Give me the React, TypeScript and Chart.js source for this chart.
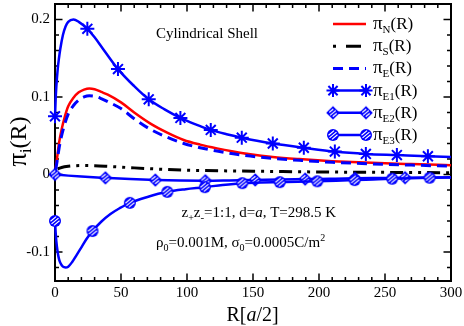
import React, { useEffect, useRef } from "react";
import { Chart, registerables } from "chart.js";

Chart.register(...registerables);

const FONT = '"Liberation Serif", "Times New Roman", serif';
const BLUE = "#0000ff";
const RED = "#ff0000";

// ---- data ----
const R_NE = [0.5, 1.5, 3, 5, 7.5, 10, 14, 18, 22, 26, 30, 35, 40, 50, 60, 72, 85, 97.5, 110, 122.7, 135, 148, 165, 185, 210, 240, 270, 300];
const PI_N = [0.008, 0.02, 0.04, 0.058, 0.075, 0.088, 0.099, 0.106, 0.1095, 0.111, 0.11, 0.1065, 0.103, 0.093, 0.08, 0.066, 0.054, 0.0445, 0.0385, 0.0337, 0.0297, 0.026, 0.0225, 0.0198, 0.0172, 0.015, 0.0134, 0.012];
const PI_E = [0.006, 0.016, 0.033, 0.05, 0.066, 0.078, 0.089, 0.096, 0.1, 0.1015, 0.101, 0.098, 0.094, 0.085, 0.072, 0.0585, 0.048, 0.04, 0.0345, 0.0302, 0.0267, 0.0237, 0.0207, 0.0183, 0.0157, 0.0137, 0.0121, 0.0107];

const R_S = [2, 5, 10, 20, 30, 40, 60, 80, 100, 150, 200, 250, 300];
const PI_S = [0.007, 0.009, 0.0105, 0.0115, 0.0112, 0.0104, 0.0085, 0.0068, 0.0055, 0.0042, 0.0032, 0.0027, 0.0023];

const R_E1 = [0, 0.5, 1, 2, 3, 4, 6, 8, 10, 14, 18, 24.5, 30, 36, 47.7, 60, 71, 83, 95, 106, 118, 130, 141.5, 153, 165, 188.5, 212, 235.5, 259, 282.5, 300];
const PI_E1 = [0.075, 0.097, 0.113, 0.135, 0.15, 0.162, 0.18, 0.191, 0.197, 0.2, 0.197, 0.188, 0.177, 0.163, 0.136, 0.114, 0.097, 0.084, 0.073, 0.065, 0.0575, 0.052, 0.0475, 0.0435, 0.04, 0.0345, 0.0295, 0.0265, 0.025, 0.0235, 0.0225];
const MARK_E1 = [0, 24.5, 47.7, 71, 95, 118, 141.5, 165, 188.5, 212, 235.5, 259, 282.5];

const R_E2 = [0, 5, 10, 20, 38.2, 57, 76, 95, 113.9, 132, 151.7, 170, 189.5, 208, 227.3, 246, 265.2, 283, 300];
const PI_E2 = [0, -0.0008, -0.0015, -0.0027, -0.0044, -0.006, -0.0072, -0.0079, -0.0081, -0.0077, -0.0071, -0.0065, -0.006, -0.0055, -0.005, -0.0046, -0.0042, -0.0039, -0.0037];
const MARK_E2 = [0, 38.2, 76, 113.9, 151.7, 189.5, 227.3, 265.2];

const R_E3 = [0, 0.5, 1, 2, 3, 4, 6, 8, 10, 13, 16, 20, 24, 28.4, 35, 42, 49, 56.7, 70, 85.1, 99, 113.5, 127, 141.9, 156, 170.3, 184, 198.7, 213, 227, 241, 255.4, 269, 283.8, 300];
const PI_E3 = [-0.06, -0.075, -0.086, -0.1, -0.109, -0.114, -0.119, -0.12, -0.119, -0.113, -0.105, -0.094, -0.083, -0.073, -0.061, -0.051, -0.0435, -0.0366, -0.029, -0.0224, -0.019, -0.0164, -0.0135, -0.0112, -0.0105, -0.0099, -0.0093, -0.0088, -0.0081, -0.0073, -0.0064, -0.0055, -0.0048, -0.0042, -0.0038];
const MARK_E3 = [0, 28.4, 56.7, 85.1, 113.5, 141.9, 170.3, 198.7, 227, 255.4, 283.8];

const X_TICKS = [0, 50, 100, 150, 200, 250, 300];
const X_TICK_LABELS = ["0", "50", "100", "150", "200", "250", "300"];
const Y_TICKS = [-0.1, 0, 0.1, 0.2];
const Y_TICK_LABELS = ["-0.1", "0", "0.1", "0.2"];
const X_MINOR_STEP = 10;
const X_MAJOR_STEP = 50;
const Y_MINOR_STEP = 0.02;
const Y_MAJOR_STEP = 0.1;
const X_MIN = 0, X_MAX = 300, Y_MIN = -0.1375, Y_MAX = 0.22;

const LEGEND_SUBS = ["N", "S", "E", "E1", "E2", "E3"];

type Seg = { t: string; size: number; dy?: number; italic?: boolean };

function fontOf(s: Seg) {
  return `${s.italic ? "italic " : ""}${s.size}px ${FONT}`;
}

function drawRich(ctx: CanvasRenderingContext2D, segs: Seg[], x: number, y: number, align: "left" | "center" | "right" = "left") {
  let w = 0;
  for (const s of segs) { ctx.font = fontOf(s); w += ctx.measureText(s.t).width; }
  let cx = align === "center" ? x - w / 2 : align === "right" ? x - w : x;
  ctx.textAlign = "left";
  ctx.textBaseline = "alphabetic";
  for (const s of segs) {
    ctx.font = fontOf(s);
    ctx.fillText(s.t, cx, y + (s.dy || 0));
    cx += ctx.measureText(s.t).width;
  }
}

function pts(xs: number[], ys: number[]) {
  return xs.map((x, i) => ({ x, y: ys[i] }));
}

function stripes(g: CanvasRenderingContext2D, m: number, L: number) {
  g.strokeStyle = "#fff";
  g.lineWidth = 1.2;
  const ang = -Math.PI * 0.22;
  const dx = Math.cos(ang), dy = Math.sin(ang);
  const px = -dy, py = dx;
  for (const o of [-2.7, 0, 2.7]) {
    const hl = Math.sqrt(Math.max(0, L * L - o * o));
    g.beginPath();
    g.moveTo(m + o * px - hl * dx, m + o * py - hl * dy);
    g.lineTo(m + o * px + hl * dx, m + o * py + hl * dy);
    g.stroke();
  }
}

function makeMarker(kind: "circle" | "diamond", r: number) {
  const c = document.createElement("canvas");
  const s = Math.ceil(2 * r + 2);
  c.width = s; c.height = s;
  const g = c.getContext("2d")!;
  const m = s / 2;
  g.fillStyle = BLUE;
  g.beginPath();
  if (kind === "circle") {
    g.arc(m, m, r, 0, Math.PI * 2);
  } else {
    g.moveTo(m, m - r); g.lineTo(m + r, m); g.lineTo(m, m + r); g.lineTo(m - r, m); g.closePath();
  }
  g.fill();
  stripes(g, m, kind === "circle" ? r * 0.75 : r * 0.55);
  return c;
}

function drawStar(ctx: CanvasRenderingContext2D, x: number, y: number, r: number) {
  ctx.save();
  ctx.strokeStyle = BLUE; ctx.lineWidth = 2;
  ctx.beginPath();
  for (let k = 0; k < 4; k++) {
    const a = (k * Math.PI) / 4;
    ctx.moveTo(x - r * Math.cos(a), y - r * Math.sin(a));
    ctx.lineTo(x + r * Math.cos(a), y + r * Math.sin(a));
  }
  ctx.stroke();
  ctx.restore();
}

export default function App() {
  const ref = useRef<HTMLCanvasElement>(null);
  useEffect(() => {
    document.body.style.margin = "0";
    const canvas = ref.current!;
    const circleImg = makeMarker("circle", 6);
    const diamondImg = makeMarker("diamond", 6.8);
    const radiusFor = (list: number[], r: number) => (c: any) => (c.raw && list.includes(c.raw.x) ? r : 0);

    const decor = {
      id: "decor",
      beforeDatasetsDraw(chart: any) {
        const { ctx, chartArea: a, scales } = chart;
        const xs = scales.x, ys = scales.y;
        ctx.save();
        ctx.strokeStyle = "#000";
        ctx.lineWidth = 1.5;
        ctx.beginPath();
        for (let k = 0; k * X_MINOR_STEP <= X_MAX + 1e-9; k++) {
          const v = k * X_MINOR_STEP;
          const px = xs.getPixelForValue(v);
          const len = Math.abs(v / X_MAJOR_STEP - Math.round(v / X_MAJOR_STEP)) < 1e-6 ? 7.5 : 4;
          ctx.moveTo(px, a.bottom); ctx.lineTo(px, a.bottom - len);
          ctx.moveTo(px, a.top); ctx.lineTo(px, a.top + len);
        }
        for (let k = Math.ceil(Y_MIN / Y_MINOR_STEP); k * Y_MINOR_STEP <= Y_MAX + 1e-9; k++) {
          const v = k * Y_MINOR_STEP;
          const py = ys.getPixelForValue(v);
          const len = Math.abs(v / Y_MAJOR_STEP - Math.round(v / Y_MAJOR_STEP)) < 1e-6 ? 7.5 : 4;
          ctx.moveTo(a.left, py); ctx.lineTo(a.left + len, py);
          ctx.moveTo(a.right, py); ctx.lineTo(a.right - len, py);
        }
        ctx.stroke();
        ctx.lineWidth = 2;
        ctx.strokeRect(a.left, a.top, a.right - a.left, a.bottom - a.top);
        ctx.restore();
      },
      afterDatasetsDraw(chart: any) {
        const { ctx } = chart;
        ctx.save();
        ctx.fillStyle = "#000";
        drawRich(ctx, [{ t: "Cylindrical Shell", size: 15 }], 258, 38, "right");
        drawRich(ctx, [
          { t: "z", size: 15 }, { t: "+", size: 10, dy: 4 }, { t: "z", size: 15 }, { t: "-", size: 11, dy: 4 },
          { t: "=1:1, d=", size: 15 }, { t: "a", size: 15, italic: true }, { t: ", T=298.5 K", size: 15 },
        ], 181.5, 217);
        drawRich(ctx, [
          { t: "ρ", size: 15 }, { t: "0", size: 10, dy: 4 }, { t: "=0.001M, σ", size: 15 }, { t: "0", size: 10, dy: 4 },
          { t: "=0.0005C/m", size: 15 }, { t: "2", size: 10, dy: -6 },
        ], 156, 246.5);
        drawRich(ctx, [{ t: "R[", size: 20 }, { t: "a", size: 20, italic: true }, { t: "/2]", size: 20 }], 252.5, 321, "center");
        ctx.save();
        ctx.translate(25.5, 141.5);
        ctx.rotate(-Math.PI / 2);
        drawRich(ctx, [{ t: "π", size: 27 }, { t: "i", size: 16, dy: 5 }, { t: "(R)", size: 24 }], 0, 0, "center");
        ctx.restore();

        const x1 = 333, x2 = 366, tx = 373;
        for (let i = 0; i < LEGEND_SUBS.length; i++) {
          const y = 24 + i * 22.2;
          ctx.save();
          ctx.beginPath();
          if (i === 0) { ctx.strokeStyle = RED; ctx.lineWidth = 2.5; }
          else if (i === 1) { ctx.strokeStyle = "#000"; ctx.lineWidth = 3; ctx.setLineDash([3, 10, 15, 6]); }
          else if (i === 2) { ctx.strokeStyle = BLUE; ctx.lineWidth = 3; ctx.setLineDash([10, 6]); }
          else { ctx.strokeStyle = BLUE; ctx.lineWidth = 2.5; }
          ctx.moveTo(x1, y); ctx.lineTo(x2, y); ctx.stroke();
          ctx.restore();
          if (i === 3) { drawStar(ctx, x1, y, 6.5); drawStar(ctx, x2, y, 6.5); }
          if (i === 4) {
            ctx.drawImage(diamondImg, x1 - diamondImg.width / 2, y - diamondImg.height / 2);
            ctx.drawImage(diamondImg, x2 - diamondImg.width / 2, y - diamondImg.height / 2);
          }
          if (i === 5) {
            ctx.drawImage(circleImg, x1 - circleImg.width / 2, y - circleImg.height / 2);
            ctx.drawImage(circleImg, x2 - circleImg.width / 2, y - circleImg.height / 2);
          }
          ctx.fillStyle = "#000";
          drawRich(ctx, [{ t: "π", size: 19 }, { t: LEGEND_SUBS[i], size: 11, dy: 4 }, { t: "(R)", size: 17 }], tx, y + 5);
        }
        ctx.restore();
      },
    };

    const base = { pointRadius: 0, cubicInterpolationMode: "monotone" as const, clip: false as any, fill: false };

    const chart = new Chart(canvas, {
      type: "line",
      data: {
        datasets: [
          { ...base, label: "πN", data: pts(R_NE, PI_N), borderColor: RED, borderWidth: 2.5, order: 6 },
          { ...base, label: "πS", data: pts(R_S, PI_S), borderColor: "#000", borderWidth: 3, borderDash: [13, 6, 3, 6, 3, 6], order: 5 },
          { ...base, label: "πE", data: pts(R_NE, PI_E), borderColor: BLUE, borderWidth: 3, borderDash: [10, 6], order: 4 },
          {
            ...base, label: "πE1", data: pts(R_E1, PI_E1), borderColor: BLUE, borderWidth: 2.5, order: 3,
            pointStyle: "star", pointRadius: radiusFor(MARK_E1, 7), pointBorderColor: BLUE, pointBorderWidth: 2, pointBackgroundColor: BLUE,
          },
          {
            ...base, label: "πE2", data: pts(R_E2, PI_E2), borderColor: BLUE, borderWidth: 2.5, order: 2,
            pointStyle: diamondImg as any, pointRadius: radiusFor(MARK_E2, 6.8),
          },
          {
            ...base, label: "πE3", data: pts(R_E3, PI_E3), borderColor: BLUE, borderWidth: 2.5, order: 1,
            pointStyle: circleImg as any, pointRadius: radiusFor(MARK_E3, 6),
          },
        ] as any,
      },
      options: {
        responsive: false,
        animation: false,
        devicePixelRatio: 1,
        events: [],
        layout: { autoPadding: false, padding: { left: 0, top: 4, right: 13, bottom: 0 } },
        plugins: { legend: { display: false }, tooltip: { enabled: false }, title: { display: false } },
        scales: {
          x: {
            type: "linear", min: X_MIN, max: X_MAX,
            grid: { display: false, drawTicks: false },
            border: { display: false },
            afterBuildTicks: (s: any) => { s.ticks = X_TICKS.map((v) => ({ value: v })); },
            afterFit: (s: any) => { s.height = 45; s.paddingLeft = 0; s.paddingRight = 0; },
            ticks: {
              color: "#000", font: { family: FONT, size: 15 }, padding: 3, maxRotation: 0, autoSkip: false,
              callback: (_v: any, i: number) => X_TICK_LABELS[i],
            },
          },
          y: {
            type: "linear", min: Y_MIN, max: Y_MAX,
            grid: { display: false, drawTicks: false },
            border: { display: false },
            afterBuildTicks: (s: any) => { s.ticks = Y_TICKS.map((v) => ({ value: v })); },
            afterFit: (s: any) => { s.width = 55; s.paddingTop = 0; s.paddingBottom = 0; },
            ticks: {
              color: "#000", font: { family: FONT, size: 15 }, padding: 5, autoSkip: false,
              callback: (_v: any, i: number) => Y_TICK_LABELS[i],
            },
          },
        },
      } as any,
      plugins: [decor],
    });
    return () => chart.destroy();
  }, []);
  return (
    <div style={{ width: 464, height: 326 }}>
      <canvas ref={ref} width={464} height={326} style={{ display: "block" }} />
    </div>
  );
}
